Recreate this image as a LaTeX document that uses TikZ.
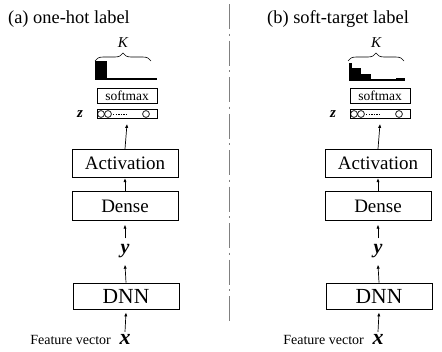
\documentclass[tikz,border=0pt]{standalone}
\usepackage{fontspec}
\setmainfont{Liberation Serif}
\usetikzlibrary{arrows.meta,decorations.pathreplacing}
\tikzset{
  layerbox/.style={draw,line width=0.8pt,rectangle,minimum width=106pt,minimum height=28.5pt,inner sep=0pt,font=\fontsize{19}{22}\selectfont},
  smallbox/.style={draw,line width=0.8pt,rectangle,minimum width=60pt,inner sep=0pt},
  arr/.style={line width=0.7pt,-{Latex[length=4pt,width=3.2pt]}},
  vecl/.style={inner sep=0pt,font=\fontsize{20}{22}\selectfont\bfseries\itshape},
  titl/.style={inner sep=0pt,anchor=base west,font=\fontsize{18.4}{22}\selectfont},
  hist/.style={fill=black},
  unit/.style={line width=0.7pt},
}
\begin{document}
\begin{tikzpicture}[x=1pt,y=-1pt]
\useasboundingbox (0,0) rectangle (442,351);
\node[titl] (ta) at (8,23) {(a) one-hot label};
\node[titl] (tb) at (267,23) {(b) soft-target label};
\coordinate (divtop) at (229.5,4);
\coordinate (divbot) at (229.5,322);
\draw[gray,line width=1.3pt,dash pattern=on 25pt off 4.5pt on 2pt off 5pt] (divtop) -- (divbot);
\foreach \p/\cx in {a/125,b/378}{
  \node[smallbox,minimum height=15pt,font=\fontsize{13.5}{15}\selectfont] (sm\p) at ({\cx+2},95.5) {softmax};
  \node[smallbox,minimum height=9pt] (zb\p) at ({\cx+2},114) {};
  \draw[unit] ({\cx-24},114) circle (3.4);
  \draw[unit] ({\cx-17},114) circle (3.4);
  \draw[unit] ({\cx+21},114) circle (3.4);
  \draw[line width=1pt,dash pattern=on 1.4pt off 1.2pt] ({\cx-12},114) -- ({\cx+2},114);
  \node[inner sep=0pt,font=\fontsize{15}{16}\selectfont\bfseries\itshape] (zl\p) at ({\cx-45},114) {z};
  \node[layerbox] (act\p) at (\cx,163.5) {Activation};
  \node[layerbox] (den\p) at (\cx,206) {Dense};
  \node[layerbox,minimum height=26pt,font=\fontsize{21.5}{24}\selectfont] (dnn\p) at ({\cx+1},296) {DNN};
  \node[vecl,minimum height=26pt] (yl\p) at (\cx,251.5) {y};
  \node[vecl,minimum height=14pt,font=\fontsize{22}{24}\selectfont\bfseries\itshape] (xl\p) at (\cx,339) {x};
  \node[inner sep=0pt,anchor=base east,font=\fontsize{14}{16}\selectfont] (fv\p) at ({\cx-14},344) {Feature vector};
  \draw[arr] (act\p.north) -- ([yshift=-5pt]zb\p.south);
  \draw[arr] (den\p.north) -- (act\p.south);
  \draw[arr] (yl\p.north) -- ([yshift=-4pt]den\p.south);
  \draw[arr] (dnn\p.north) -- (yl\p.south);
  \draw[arr] (xl\p.north) -- ([yshift=-3pt]dnn\p.south);
  \draw[line width=0.6pt,decorate,decoration={brace,amplitude=8pt}] ({\cx-30},61) -- ({\cx+26},61);
  \node[inner sep=0pt,font=\fontsize{15}{16}\selectfont\itshape] (k\p) at ({\cx-2},43) {K};
}
% one-hot histogram
\fill[hist] (95,61) rectangle (107,79.5);
\fill[hist] (95,77.5) rectangle (157,79.5);
% soft-target histogram
\fill[hist] (349,63) rectangle (352,80.5);
\fill[hist] (352,68) rectangle (361,80.5);
\fill[hist] (361,74) rectangle (371,80.5);
\fill[hist] (396,78) rectangle (405,80.5);
\fill[hist] (349,78.5) rectangle (405,80.5);
\end{tikzpicture}
\end{document}
